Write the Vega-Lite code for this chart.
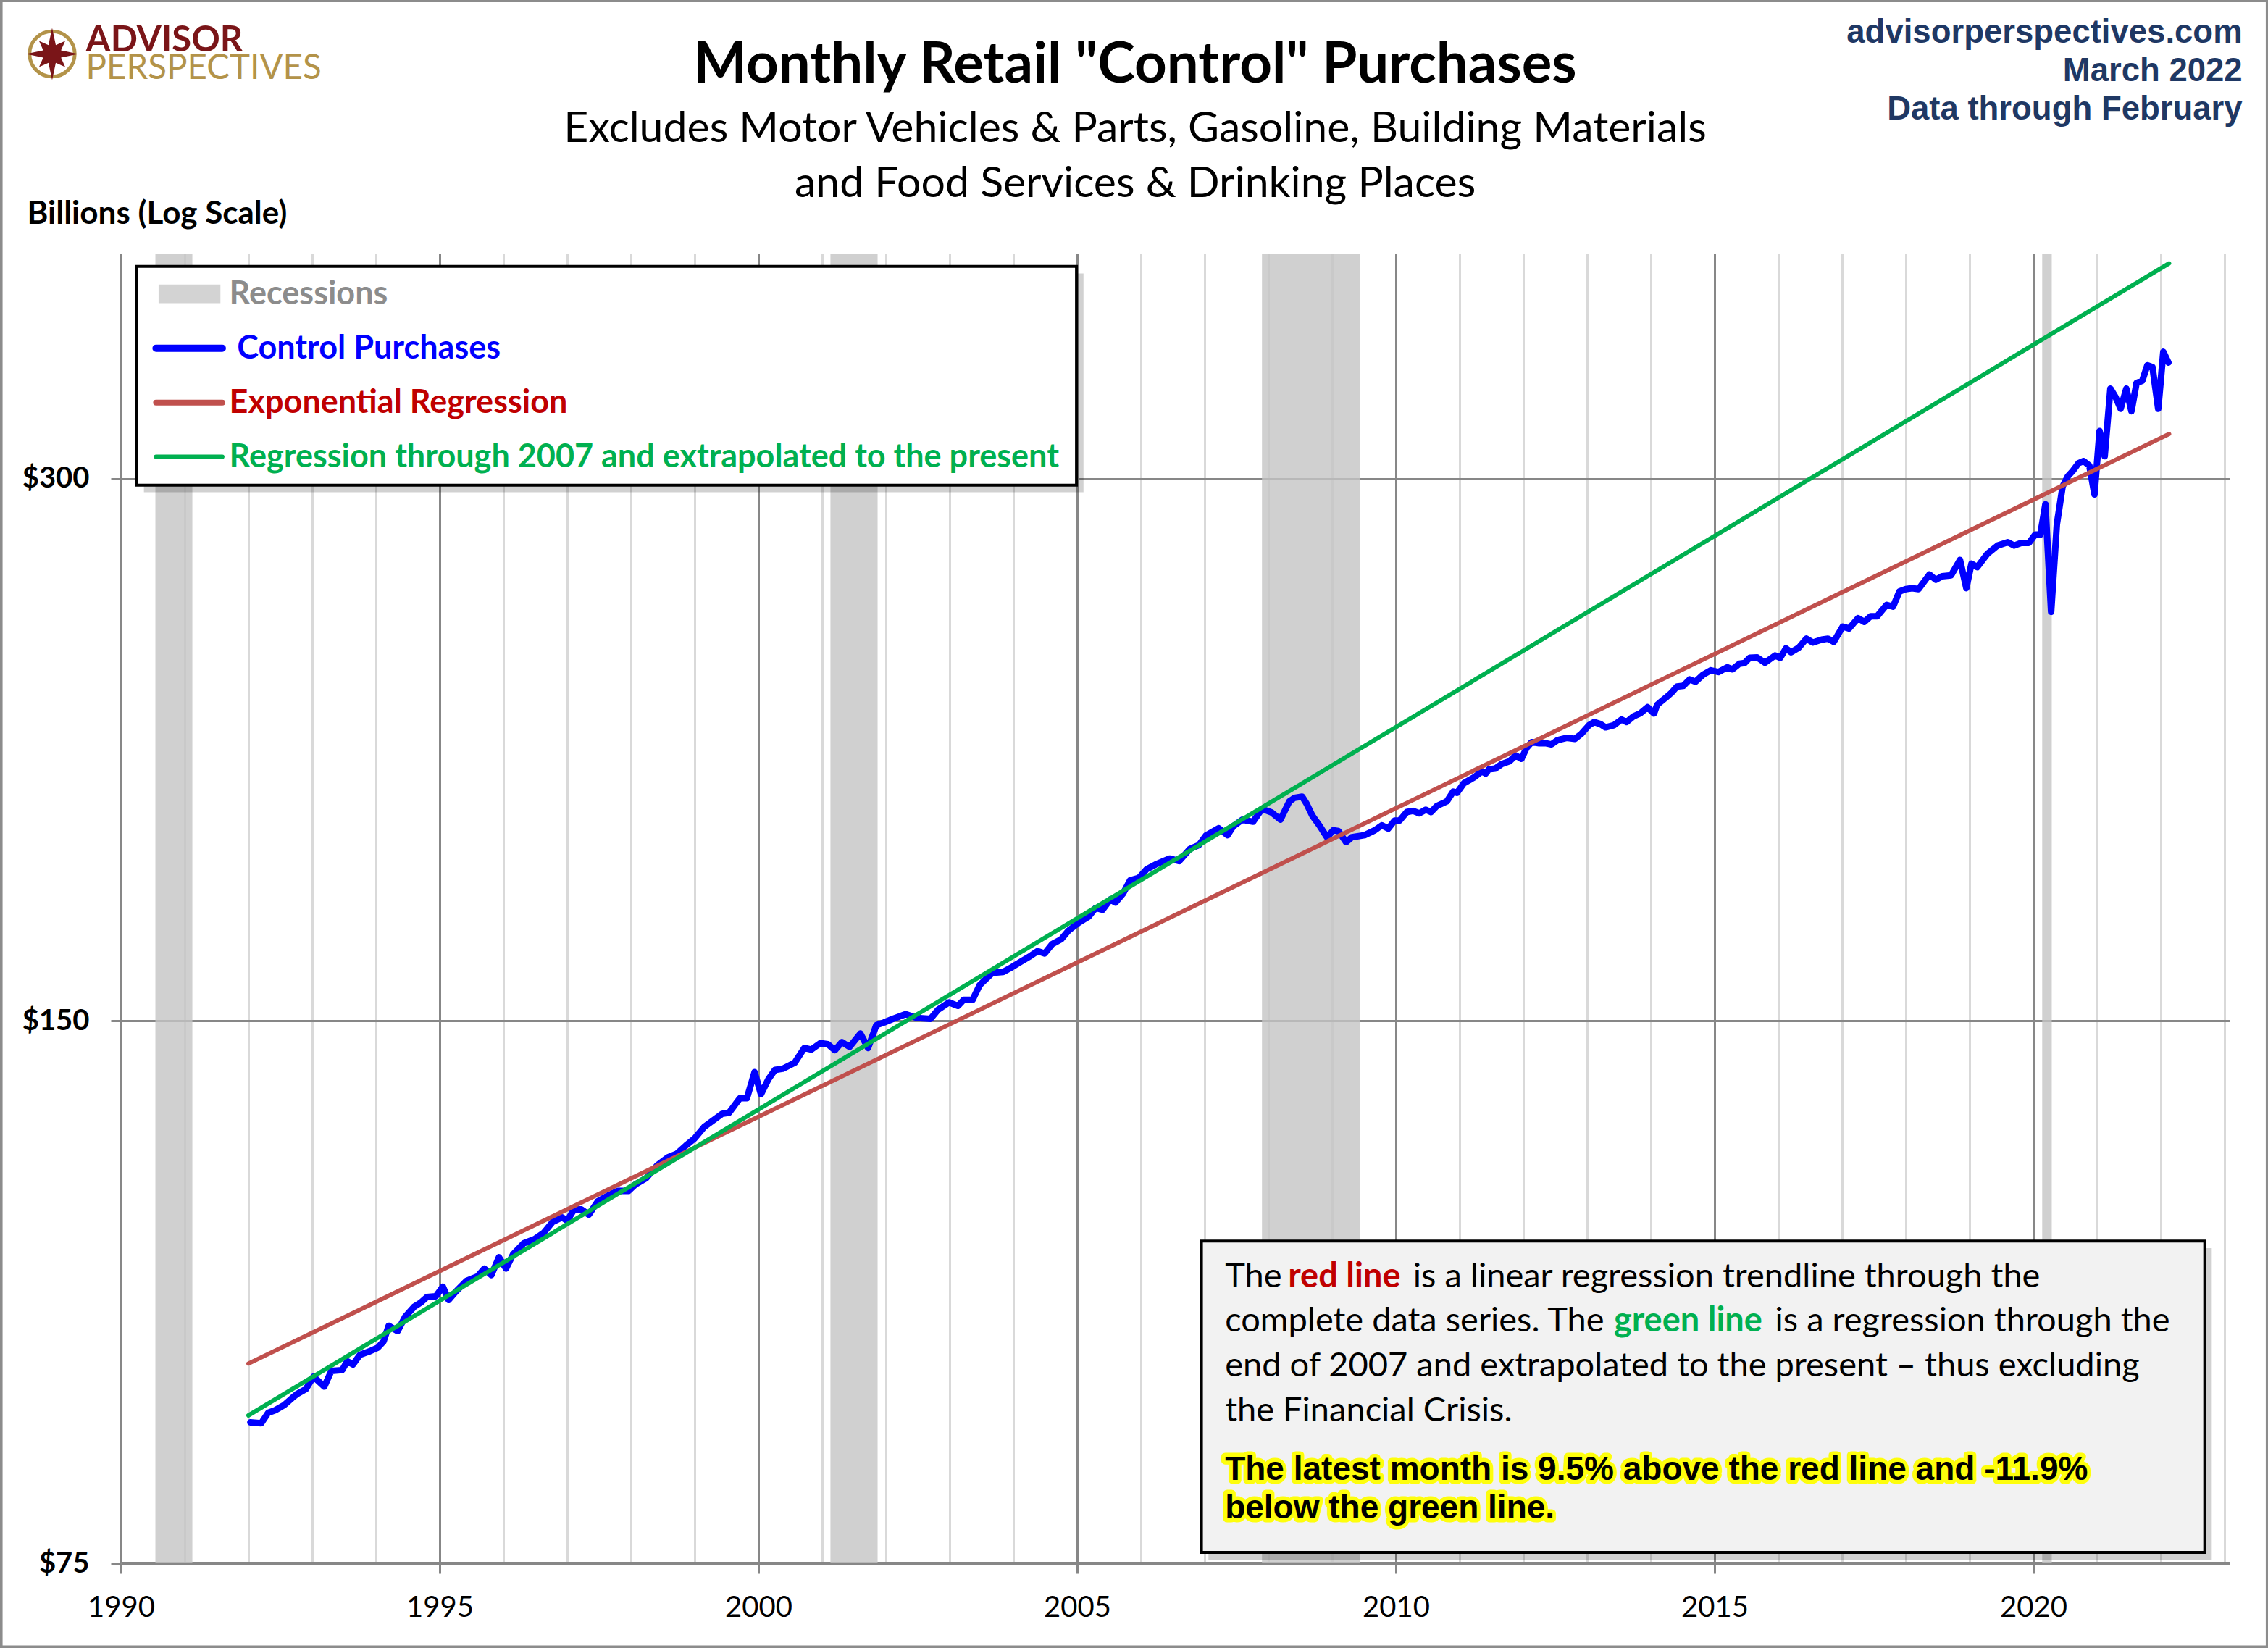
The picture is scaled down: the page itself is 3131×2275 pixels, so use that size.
{
  "$schema": "https://vega.github.io/schema/vega-lite/v6.json",
  "width": 2911,
  "height": 1808,
  "autosize": {"type": "none"},
  "padding": {"left": 167, "top": 350, "right": 53, "bottom": 117},
  "background": "white",
  "config": {"view": {"stroke": null}, "font": "Lato"},
  "datasets": {
    "retail": [
      {"year": 1992.03, "value": 89.8}, {"year": 1992.2, "value": 89.7}, {"year": 1992.31, "value": 90.9},
      {"year": 1992.42, "value": 91.2}, {"year": 1992.56, "value": 91.8}, {"year": 1992.68, "value": 92.6},
      {"year": 1992.76, "value": 93.1}, {"year": 1992.9, "value": 93.7}, {"year": 1993.02, "value": 95.2},
      {"year": 1993.19, "value": 94.0}, {"year": 1993.3, "value": 95.9}, {"year": 1993.47, "value": 96.0},
      {"year": 1993.55, "value": 97.1}, {"year": 1993.64, "value": 96.7}, {"year": 1993.75, "value": 97.9},
      {"year": 1993.89, "value": 98.3}, {"year": 1994.03, "value": 98.8}, {"year": 1994.12, "value": 99.6},
      {"year": 1994.2, "value": 101.6}, {"year": 1994.34, "value": 100.9}, {"year": 1994.46, "value": 102.8},
      {"year": 1994.6, "value": 104.1}, {"year": 1994.71, "value": 104.7}, {"year": 1994.8, "value": 105.4},
      {"year": 1994.94, "value": 105.5}, {"year": 1995.05, "value": 106.8}, {"year": 1995.14, "value": 105.0},
      {"year": 1995.25, "value": 106.1}, {"year": 1995.42, "value": 107.6}, {"year": 1995.59, "value": 108.2},
      {"year": 1995.7, "value": 109.3}, {"year": 1995.81, "value": 108.4}, {"year": 1995.93, "value": 110.9},
      {"year": 1996.04, "value": 109.3}, {"year": 1996.15, "value": 111.3}, {"year": 1996.32, "value": 112.9},
      {"year": 1996.49, "value": 113.5}, {"year": 1996.63, "value": 114.4}, {"year": 1996.77, "value": 116.0},
      {"year": 1996.92, "value": 116.7}, {"year": 1997.0, "value": 116.2}, {"year": 1997.11, "value": 117.9},
      {"year": 1997.22, "value": 117.9}, {"year": 1997.34, "value": 117.1}, {"year": 1997.48, "value": 119.1},
      {"year": 1997.62, "value": 119.9}, {"year": 1997.79, "value": 120.7}, {"year": 1997.96, "value": 120.7},
      {"year": 1998.07, "value": 121.7}, {"year": 1998.24, "value": 122.7}, {"year": 1998.41, "value": 124.7},
      {"year": 1998.58, "value": 126.0}, {"year": 1998.72, "value": 126.6}, {"year": 1998.86, "value": 127.9},
      {"year": 1999.0, "value": 129.1}, {"year": 1999.15, "value": 131.0}, {"year": 1999.29, "value": 132.1},
      {"year": 1999.43, "value": 133.2}, {"year": 1999.54, "value": 133.4}, {"year": 1999.71, "value": 135.9},
      {"year": 1999.82, "value": 135.9}, {"year": 1999.94, "value": 140.5}, {"year": 2000.04, "value": 136.6},
      {"year": 2000.16, "value": 139.3}, {"year": 2000.26, "value": 140.9}, {"year": 2000.38, "value": 141.1},
      {"year": 2000.57, "value": 142.2}, {"year": 2000.72, "value": 144.9}, {"year": 2000.83, "value": 144.6},
      {"year": 2000.97, "value": 145.8}, {"year": 2001.09, "value": 145.6}, {"year": 2001.2, "value": 144.5},
      {"year": 2001.31, "value": 146.0}, {"year": 2001.43, "value": 145.1}, {"year": 2001.6, "value": 147.6},
      {"year": 2001.72, "value": 144.9}, {"year": 2001.85, "value": 149.2}, {"year": 2001.97, "value": 149.7},
      {"year": 2002.11, "value": 150.4}, {"year": 2002.31, "value": 151.3}, {"year": 2002.48, "value": 150.6},
      {"year": 2002.7, "value": 150.4}, {"year": 2002.82, "value": 152.2}, {"year": 2002.99, "value": 153.6},
      {"year": 2003.13, "value": 152.9}, {"year": 2003.22, "value": 154.1}, {"year": 2003.36, "value": 154.1},
      {"year": 2003.47, "value": 157.0}, {"year": 2003.67, "value": 159.5}, {"year": 2003.84, "value": 159.7},
      {"year": 2003.98, "value": 160.7}, {"year": 2004.13, "value": 161.9}, {"year": 2004.27, "value": 163.0},
      {"year": 2004.38, "value": 164.0}, {"year": 2004.49, "value": 163.5}, {"year": 2004.61, "value": 165.5},
      {"year": 2004.75, "value": 166.5}, {"year": 2004.86, "value": 168.3}, {"year": 2005.03, "value": 170.1},
      {"year": 2005.18, "value": 171.4}, {"year": 2005.29, "value": 173.3}, {"year": 2005.4, "value": 172.9},
      {"year": 2005.52, "value": 175.2}, {"year": 2005.6, "value": 174.5}, {"year": 2005.72, "value": 176.5},
      {"year": 2005.83, "value": 179.5}, {"year": 2005.97, "value": 180.1}, {"year": 2006.09, "value": 182.1},
      {"year": 2006.23, "value": 183.2}, {"year": 2006.45, "value": 184.6}, {"year": 2006.6, "value": 184.0},
      {"year": 2006.77, "value": 186.9}, {"year": 2006.91, "value": 187.8}, {"year": 2007.02, "value": 190.1},
      {"year": 2007.22, "value": 191.9}, {"year": 2007.36, "value": 190.2}, {"year": 2007.45, "value": 192.4},
      {"year": 2007.59, "value": 194.0}, {"year": 2007.76, "value": 193.5}, {"year": 2007.9, "value": 196.7},
      {"year": 2008.05, "value": 195.8}, {"year": 2008.19, "value": 194.0}, {"year": 2008.33, "value": 198.6},
      {"year": 2008.41, "value": 199.5}, {"year": 2008.53, "value": 199.8}, {"year": 2008.6, "value": 198.0},
      {"year": 2008.69, "value": 195.0}, {"year": 2008.8, "value": 192.6}, {"year": 2008.92, "value": 189.7},
      {"year": 2009.02, "value": 191.4}, {"year": 2009.1, "value": 191.2}, {"year": 2009.22, "value": 188.5},
      {"year": 2009.31, "value": 189.7}, {"year": 2009.51, "value": 190.2}, {"year": 2009.67, "value": 191.4},
      {"year": 2009.78, "value": 192.6}, {"year": 2009.88, "value": 191.8}, {"year": 2009.98, "value": 193.8},
      {"year": 2010.06, "value": 193.8}, {"year": 2010.17, "value": 195.9}, {"year": 2010.27, "value": 196.2},
      {"year": 2010.37, "value": 195.6}, {"year": 2010.47, "value": 196.5}, {"year": 2010.55, "value": 195.9},
      {"year": 2010.64, "value": 197.4}, {"year": 2010.8, "value": 198.6}, {"year": 2010.9, "value": 201.1},
      {"year": 2010.96, "value": 200.8}, {"year": 2011.07, "value": 203.3}, {"year": 2011.23, "value": 204.8},
      {"year": 2011.35, "value": 206.4}, {"year": 2011.41, "value": 205.8}, {"year": 2011.46, "value": 206.9},
      {"year": 2011.56, "value": 207.1}, {"year": 2011.66, "value": 208.3}, {"year": 2011.78, "value": 209.0},
      {"year": 2011.88, "value": 210.6}, {"year": 2011.97, "value": 209.7}, {"year": 2012.05, "value": 212.6},
      {"year": 2012.13, "value": 214.2}, {"year": 2012.25, "value": 213.9}, {"year": 2012.36, "value": 213.9},
      {"year": 2012.44, "value": 213.6}, {"year": 2012.54, "value": 214.8}, {"year": 2012.68, "value": 215.4},
      {"year": 2012.81, "value": 215.1}, {"year": 2012.91, "value": 216.5}, {"year": 2013.03, "value": 218.9},
      {"year": 2013.11, "value": 219.8}, {"year": 2013.21, "value": 219.2}, {"year": 2013.29, "value": 218.3},
      {"year": 2013.42, "value": 218.9}, {"year": 2013.54, "value": 220.5}, {"year": 2013.62, "value": 219.8},
      {"year": 2013.73, "value": 221.4}, {"year": 2013.83, "value": 222.2}, {"year": 2013.95, "value": 224.0},
      {"year": 2014.05, "value": 222.2}, {"year": 2014.1, "value": 224.7}, {"year": 2014.24, "value": 226.8},
      {"year": 2014.32, "value": 228.1}, {"year": 2014.41, "value": 230.0}, {"year": 2014.51, "value": 230.2},
      {"year": 2014.61, "value": 232.1}, {"year": 2014.7, "value": 231.4}, {"year": 2014.82, "value": 233.5},
      {"year": 2014.94, "value": 234.8}, {"year": 2015.06, "value": 234.3}, {"year": 2015.2, "value": 235.7},
      {"year": 2015.28, "value": 235.1}, {"year": 2015.39, "value": 236.8}, {"year": 2015.47, "value": 237.0},
      {"year": 2015.55, "value": 238.6}, {"year": 2015.67, "value": 238.7}, {"year": 2015.79, "value": 237.1},
      {"year": 2015.95, "value": 239.3}, {"year": 2016.03, "value": 238.6}, {"year": 2016.12, "value": 241.5},
      {"year": 2016.2, "value": 240.3}, {"year": 2016.32, "value": 241.7}, {"year": 2016.44, "value": 244.5},
      {"year": 2016.54, "value": 243.3}, {"year": 2016.68, "value": 244.2}, {"year": 2016.78, "value": 244.5},
      {"year": 2016.87, "value": 243.5}, {"year": 2017.01, "value": 248.3}, {"year": 2017.11, "value": 247.7},
      {"year": 2017.25, "value": 251.0}, {"year": 2017.35, "value": 249.8}, {"year": 2017.45, "value": 251.6},
      {"year": 2017.55, "value": 251.6}, {"year": 2017.7, "value": 255.3}, {"year": 2017.8, "value": 254.7},
      {"year": 2017.9, "value": 259.7}, {"year": 2018.0, "value": 260.5}, {"year": 2018.1, "value": 260.8},
      {"year": 2018.2, "value": 260.5}, {"year": 2018.37, "value": 265.4}, {"year": 2018.47, "value": 263.6},
      {"year": 2018.57, "value": 264.8}, {"year": 2018.71, "value": 265.1}, {"year": 2018.85, "value": 270.4},
      {"year": 2018.95, "value": 260.8}, {"year": 2019.03, "value": 269.1}, {"year": 2019.12, "value": 267.9},
      {"year": 2019.28, "value": 272.5}, {"year": 2019.44, "value": 275.4}, {"year": 2019.6, "value": 276.6},
      {"year": 2019.7, "value": 275.4}, {"year": 2019.81, "value": 276.3}, {"year": 2019.93, "value": 276.3},
      {"year": 2020.03, "value": 279.3}, {"year": 2020.11, "value": 279.3}, {"year": 2020.19, "value": 290.3},
      {"year": 2020.28, "value": 253.0}, {"year": 2020.37, "value": 283.0}, {"year": 2020.46, "value": 297.0},
      {"year": 2020.54, "value": 300.8}, {"year": 2020.62, "value": 303.0}, {"year": 2020.71, "value": 306.0},
      {"year": 2020.79, "value": 306.8}, {"year": 2020.88, "value": 305.0}, {"year": 2020.96, "value": 294.0},
      {"year": 2021.04, "value": 318.8}, {"year": 2021.12, "value": 308.7}, {"year": 2021.21, "value": 336.6},
      {"year": 2021.29, "value": 333.0}, {"year": 2021.37, "value": 328.0}, {"year": 2021.46, "value": 336.6},
      {"year": 2021.54, "value": 327.0}, {"year": 2021.62, "value": 339.0}, {"year": 2021.71, "value": 340.0},
      {"year": 2021.79, "value": 346.8}, {"year": 2021.87, "value": 346.0}, {"year": 2021.96, "value": 328.0},
      {"year": 2022.04, "value": 352.8}, {"year": 2022.12, "value": 348.0}
    ],
    "trends": [
      {"series": "Exponential Regression", "year": 1992.0, "value": 96.8},
      {"series": "Exponential Regression", "year": 2022.13, "value": 317.6},
      {"series": "Regression through 2007", "year": 1992.0, "value": 90.6},
      {"series": "Regression through 2007", "year": 2022.13, "value": 395.0}
    ],
    "recessions": [
      {"start": 1990.54, "end": 1991.12},
      {"start": 2001.13, "end": 2001.87},
      {"start": 2007.9, "end": 2009.44},
      {"start": 2020.14, "end": 2020.29}
    ],
    "panels": [
      {"panel": "legend shadow", "year": 1990.36, "year2": 2005.1, "value": 389.9, "value2": 294.8},
      {"panel": "legend", "year": 1990.24, "year2": 2004.99, "value": 393.5, "value2": 297.5},
      {"panel": "note shadow", "year": 2007.06, "year2": 2022.8, "value": 112.2, "value2": 75.35},
      {"panel": "note", "year": 2006.95, "year2": 2022.69, "value": 113.2, "value2": 76.05},
      {"panel": "frame", "year": 1988.12, "year2": 2023.67, "value": 552.6, "value2": 67.39}
    ],
    "keys": [
      {"item": "Recessions", "year": 1990.59, "year2": 1991.56, "value": 384.5, "value2": 375.4, "labelYear": 1991.7, "labelValue": 379.9},
      {"item": "Control Purchases", "year": 1990.55, "year2": 1991.59, "value": 354.4, "labelYear": 1991.82, "labelValue": 354.4},
      {"item": "Exponential Regression", "year": 1990.55, "year2": 1991.59, "value": 330.6, "labelYear": 1991.7, "labelValue": 330.6},
      {"item": "Regression through 2007 and extrapolated to the present", "year": 1990.55, "year2": 1991.59, "value": 308.5, "labelYear": 1991.7, "labelValue": 308.5}
    ],
    "note": [
      {"style": "plain", "text": "The", "year": 2007.32, "value": 106.7},
      {"style": "red", "text": "red line", "year": 2008.31, "value": 106.7},
      {"style": "plain", "text": "is a linear regression trendline  through the", "year": 2010.27, "value": 106.7},
      {"style": "plain", "text": "complete data series. The", "year": 2007.32, "value": 100.9},
      {"style": "green", "text": "green line", "year": 2013.42, "value": 100.9},
      {"style": "plain", "text": "is a regression through the", "year": 2015.95, "value": 100.9},
      {"style": "plain", "text": "end of 2007 and extrapolated to the present  \u2013 thus excluding", "year": 2007.32, "value": 95.2},
      {"style": "plain", "text": "the Financial Crisis.", "year": 2007.32, "value": 89.9},
      {"style": "highlight", "text": "The latest month is 9.5% above the red line and -11.9%", "year": 2007.32, "value": 83.4},
      {"style": "highlight", "text": "below the green line.", "year": 2007.32, "value": 79.4}
    ],
    "header": [
      {"role": "title", "text": "Monthly Retail \"Control\" Purchases", "year": 2005.91, "value": 497.9},
      {"role": "subtitle", "text": "Excludes Motor Vehicles & Parts, Gasoline, Building Materials", "year": 2005.91, "value": 461.4},
      {"role": "subtitle", "text": "and Food Services & Drinking Places", "year": 2005.91, "value": 429.8},
      {"role": "site", "text": "advisorperspectives.com", "year": 2023.28, "value": 523.5},
      {"role": "site", "text": "March 2022", "year": 2023.28, "value": 498.8},
      {"role": "site", "text": "Data through February", "year": 2023.28, "value": 474.9},
      {"role": "brand", "text": "ADVISOR", "year": 1989.45, "value": 518.1},
      {"role": "brand2", "text": "PERSPECTIVES", "year": 1989.45, "value": 500.2},
      {"role": "compass", "text": "", "year": 1988.92, "value": 516.2}
    ]
  },
  "layer": [
    {
      "data": {"name": "recessions"},
      "mark": {"type": "rect", "color": "#c4c4c4", "opacity": 0.8},
      "encoding": {
        "x": {"field": "start", "type": "quantitative", "scale": {"domain": [1990, 2023.08], "nice": false, "zero": false}},
        "x2": {"field": "end"}
      }
    },
    {
      "data": {"name": "retail"},
      "mark": {"type": "line", "color": "#0000ff", "strokeWidth": 9, "strokeJoin": "round", "strokeCap": "round"},
      "encoding": {
        "x": {
          "field": "year", "type": "quantitative",
          "scale": {"domain": [1990, 2023.08], "nice": false, "zero": false},
          "axis": {
            "title": null,
            "values": [1990, 1991, 1992, 1993, 1994, 1995, 1996, 1997, 1998, 1999, 2000, 2001, 2002, 2003, 2004, 2005, 2006, 2007, 2008, 2009, 2010, 2011, 2012, 2013, 2014, 2015, 2016, 2017, 2018, 2019, 2020, 2021, 2022, 2023],
            "format": "d",
            "labelExpr": "datum.value % 5 === 0 ? datum.label : ''",
            "labelOverlap": false, "labelFlush": false, "labelBound": false,
            "labelFont": "Lato", "labelFontSize": 40, "labelColor": "#000000", "labelPadding": 27,
            "domain": false,
            "grid": true,
            "gridColor": {"condition": {"test": "datum.value % 5 === 0", "value": "#878787"}, "value": "#d9d9d9"},
            "gridWidth": 3,
            "tickSize": 14, "tickWidth": 3,
            "tickColor": {"condition": {"test": "datum.value % 5 === 0", "value": "#878787"}, "value": "transparent"}
          }
        },
        "y": {
          "field": "value", "type": "quantitative",
          "scale": {"type": "log", "domain": [75, 400], "nice": false},
          "axis": {
            "title": "Billions (Log Scale)",
            "values": [75, 150, 300],
            "labelExpr": "'$' + datum.value",
            "labelFont": "Lato", "labelFontWeight": "bold", "labelFontSize": 40, "labelColor": "#000000", "labelPadding": 30,
            "domain": false,
            "grid": true, "gridColor": "#878787",
            "gridWidth": {"condition": {"test": "datum.value === 75", "value": 5}, "value": 3},
            "tickSize": 14, "tickWidth": 3, "tickColor": "#878787",
            "titleAngle": 0, "titleAlign": "left", "titleBaseline": "alphabetic",
            "titleX": -130, "titleY": -42,
            "titleFont": "Lato", "titleFontWeight": "bold", "titleFontSize": 44, "titleColor": "#000000"
          }
        }
      }
    },
    {
      "data": {"name": "trends"},
      "transform": [{"filter": "datum.series === 'Exponential Regression'"}],
      "mark": {"type": "line", "color": "#c0504d", "strokeWidth": 6, "strokeCap": "round"},
      "encoding": {
        "x": {"field": "year", "type": "quantitative", "scale": {"domain": [1990, 2023.08], "nice": false, "zero": false}},
        "y": {"field": "value", "type": "quantitative", "scale": {"type": "log", "domain": [75, 400], "nice": false}}
      }
    },
    {
      "data": {"name": "trends"},
      "transform": [{"filter": "datum.series === 'Regression through 2007'"}],
      "mark": {"type": "line", "color": "#00b050", "strokeWidth": 6, "strokeCap": "round"},
      "encoding": {
        "x": {"field": "year", "type": "quantitative", "scale": {"domain": [1990, 2023.08], "nice": false, "zero": false}},
        "y": {"field": "value", "type": "quantitative", "scale": {"type": "log", "domain": [75, 400], "nice": false}}
      }
    },
    {
      "data": {"name": "panels"},
      "transform": [{"filter": "indexof(datum.panel, 'shadow') >= 0"}],
      "mark": {"type": "rect", "color": "#000000", "opacity": 0.18},
      "encoding": {
        "x": {"field": "year", "type": "quantitative", "scale": {"domain": [1990, 2023.08], "nice": false, "zero": false}},
        "x2": {"field": "year2"},
        "y": {"field": "value", "type": "quantitative", "scale": {"type": "log", "domain": [75, 400], "nice": false}},
        "y2": {"field": "value2"}
      }
    },
    {
      "data": {"name": "panels"},
      "transform": [{"filter": "datum.panel === 'legend'"}],
      "mark": {"type": "rect", "fill": "#ffffff", "stroke": "#000000", "strokeWidth": 4},
      "encoding": {
        "x": {"field": "year", "type": "quantitative", "scale": {"domain": [1990, 2023.08], "nice": false, "zero": false}},
        "x2": {"field": "year2"},
        "y": {"field": "value", "type": "quantitative", "scale": {"type": "log", "domain": [75, 400], "nice": false}},
        "y2": {"field": "value2"}
      }
    },
    {
      "data": {"name": "panels"},
      "transform": [{"filter": "datum.panel === 'note'"}],
      "mark": {"type": "rect", "fill": "#f2f2f2", "stroke": "#000000", "strokeWidth": 4},
      "encoding": {
        "x": {"field": "year", "type": "quantitative", "scale": {"domain": [1990, 2023.08], "nice": false, "zero": false}},
        "x2": {"field": "year2"},
        "y": {"field": "value", "type": "quantitative", "scale": {"type": "log", "domain": [75, 400], "nice": false}},
        "y2": {"field": "value2"}
      }
    },
    {
      "data": {"name": "keys"},
      "transform": [{"filter": "datum.item === 'Recessions'"}],
      "mark": {"type": "rect", "color": "#d3d3d3"},
      "encoding": {
        "x": {"field": "year", "type": "quantitative", "scale": {"domain": [1990, 2023.08], "nice": false, "zero": false}},
        "x2": {"field": "year2"},
        "y": {"field": "value", "type": "quantitative", "scale": {"type": "log", "domain": [75, 400], "nice": false}},
        "y2": {"field": "value2"}
      }
    },
    {
      "data": {"name": "keys"},
      "transform": [{"filter": "datum.item !== 'Recessions'"}],
      "mark": {"type": "rule", "strokeCap": "round"},
      "encoding": {
        "x": {"field": "year", "type": "quantitative", "scale": {"domain": [1990, 2023.08], "nice": false, "zero": false}},
        "x2": {"field": "year2"},
        "y": {"field": "value", "type": "quantitative", "scale": {"type": "log", "domain": [75, 400], "nice": false}},
        "stroke": {"field": "item", "type": "nominal", "legend": null,
          "scale": {"domain": ["Control Purchases", "Exponential Regression", "Regression through 2007 and extrapolated to the present"], "range": ["#0000ff", "#c0504d", "#00b050"]}},
        "strokeWidth": {"field": "item", "type": "nominal", "legend": null,
          "scale": {"domain": ["Control Purchases", "Exponential Regression", "Regression through 2007 and extrapolated to the present"], "range": [10, 6, 6]}}
      }
    },
    {
      "data": {"name": "keys"},
      "mark": {"type": "text", "font": "Lato", "fontWeight": "bold", "fontSize": 45, "align": "left", "baseline": "middle"},
      "encoding": {
        "x": {"field": "labelYear", "type": "quantitative", "scale": {"domain": [1990, 2023.08], "nice": false, "zero": false}},
        "y": {"field": "labelValue", "type": "quantitative", "scale": {"type": "log", "domain": [75, 400], "nice": false}},
        "text": {"field": "item"},
        "color": {"field": "item", "type": "nominal", "legend": null,
          "scale": {"domain": ["Recessions", "Control Purchases", "Exponential Regression", "Regression through 2007 and extrapolated to the present"], "range": ["#8c8c8c", "#0000ff", "#c00000", "#00b050"]}}
      }
    },
    {
      "data": {"name": "note"},
      "transform": [{"filter": "datum.style === 'plain'"}],
      "mark": {"type": "text", "font": "Lato", "fontSize": 47, "align": "left", "baseline": "alphabetic", "fill": "#000000"},
      "encoding": {
        "x": {"field": "year", "type": "quantitative", "scale": {"domain": [1990, 2023.08], "nice": false, "zero": false}},
        "y": {"field": "value", "type": "quantitative", "scale": {"type": "log", "domain": [75, 400], "nice": false}},
        "text": {"field": "text"}
      }
    },
    {
      "data": {"name": "note"},
      "transform": [{"filter": "datum.style === 'red' || datum.style === 'green'"}],
      "mark": {"type": "text", "font": "Lato", "fontWeight": "bold", "fontSize": 47, "align": "left", "baseline": "alphabetic"},
      "encoding": {
        "x": {"field": "year", "type": "quantitative", "scale": {"domain": [1990, 2023.08], "nice": false, "zero": false}},
        "y": {"field": "value", "type": "quantitative", "scale": {"type": "log", "domain": [75, 400], "nice": false}},
        "text": {"field": "text"},
        "fill": {"field": "style", "type": "nominal", "legend": null,
          "scale": {"domain": ["red", "green"], "range": ["#c00000", "#00b050"]}}
      }
    },
    {
      "data": {"name": "note"},
      "transform": [{"filter": "datum.style === 'highlight'"}],
      "mark": {"type": "text", "font": "Liberation Sans", "fontWeight": "bold", "fontSize": 46, "align": "left", "baseline": "alphabetic",
        "fill": "#ffff00", "stroke": "#ffff00", "strokeWidth": 11, "strokeJoin": "round", "opacity": 0.95},
      "encoding": {
        "x": {"field": "year", "type": "quantitative", "scale": {"domain": [1990, 2023.08], "nice": false, "zero": false}},
        "y": {"field": "value", "type": "quantitative", "scale": {"type": "log", "domain": [75, 400], "nice": false}},
        "text": {"field": "text"}
      }
    },
    {
      "data": {"name": "note"},
      "transform": [{"filter": "datum.style === 'highlight'"}],
      "mark": {"type": "text", "font": "Liberation Sans", "fontWeight": "bold", "fontSize": 46, "align": "left", "baseline": "alphabetic", "fill": "#000000"},
      "encoding": {
        "x": {"field": "year", "type": "quantitative", "scale": {"domain": [1990, 2023.08], "nice": false, "zero": false}},
        "y": {"field": "value", "type": "quantitative", "scale": {"type": "log", "domain": [75, 400], "nice": false}},
        "text": {"field": "text"}
      }
    },
    {
      "data": {"name": "header"},
      "transform": [{"filter": "datum.role === 'title'"}],
      "mark": {"type": "text", "font": "Lato", "fontWeight": "bold", "fontSize": 78, "align": "center", "baseline": "alphabetic", "fill": "#000000"},
      "encoding": {
        "x": {"field": "year", "type": "quantitative", "scale": {"domain": [1990, 2023.08], "nice": false, "zero": false}},
        "y": {"field": "value", "type": "quantitative", "scale": {"type": "log", "domain": [75, 400], "nice": false}},
        "text": {"field": "text"}
      }
    },
    {
      "data": {"name": "header"},
      "transform": [{"filter": "datum.role === 'subtitle'"}],
      "mark": {"type": "text", "font": "Lato", "fontSize": 59, "align": "center", "baseline": "alphabetic", "fill": "#000000"},
      "encoding": {
        "x": {"field": "year", "type": "quantitative", "scale": {"domain": [1990, 2023.08], "nice": false, "zero": false}},
        "y": {"field": "value", "type": "quantitative", "scale": {"type": "log", "domain": [75, 400], "nice": false}},
        "text": {"field": "text"}
      }
    },
    {
      "data": {"name": "header"},
      "transform": [{"filter": "datum.role === 'site'"}],
      "mark": {"type": "text", "font": "Liberation Sans", "fontWeight": "bold", "fontSize": 45.5, "align": "right", "baseline": "alphabetic", "fill": "#1f3864"},
      "encoding": {
        "x": {"field": "year", "type": "quantitative", "scale": {"domain": [1990, 2023.08], "nice": false, "zero": false}},
        "y": {"field": "value", "type": "quantitative", "scale": {"type": "log", "domain": [75, 400], "nice": false}},
        "text": {"field": "text"}
      }
    },
    {
      "data": {"name": "header"},
      "transform": [{"filter": "datum.role === 'brand'"}],
      "mark": {"type": "text", "font": "Lato", "fontWeight": "bold", "fontSize": 49, "align": "left", "baseline": "alphabetic", "fill": "#7a1518"},
      "encoding": {
        "x": {"field": "year", "type": "quantitative", "scale": {"domain": [1990, 2023.08], "nice": false, "zero": false}},
        "y": {"field": "value", "type": "quantitative", "scale": {"type": "log", "domain": [75, 400], "nice": false}},
        "text": {"field": "text"}
      }
    },
    {
      "data": {"name": "header"},
      "transform": [{"filter": "datum.role === 'brand2'"}],
      "mark": {"type": "text", "font": "Lato", "fontSize": 47.5, "align": "left", "baseline": "alphabetic", "fill": "#b39349"},
      "encoding": {
        "x": {"field": "year", "type": "quantitative", "scale": {"domain": [1990, 2023.08], "nice": false, "zero": false}},
        "y": {"field": "value", "type": "quantitative", "scale": {"type": "log", "domain": [75, 400], "nice": false}},
        "text": {"field": "text"}
      }
    },
    {
      "data": {"name": "header"},
      "transform": [{"filter": "datum.role === 'compass'"}],
      "mark": {"type": "point", "shape": "circle", "filled": false, "stroke": "#b39349", "strokeWidth": 5, "size": 3900, "opacity": 1},
      "encoding": {
        "x": {"field": "year", "type": "quantitative", "scale": {"domain": [1990, 2023.08], "nice": false, "zero": false}},
        "y": {"field": "value", "type": "quantitative", "scale": {"type": "log", "domain": [75, 400], "nice": false}}
      }
    },
    {
      "data": {"name": "header"},
      "transform": [{"filter": "datum.role === 'compass'"}],
      "mark": {"type": "point", "shape": "M0,-1L0.14,-0.34L0.5,-0.5L0.34,-0.14L1,0L0.34,0.14L0.5,0.5L0.14,0.34L0,1L-0.14,0.34L-0.5,0.5L-0.34,0.14L-1,0L-0.34,-0.14L-0.5,-0.5L-0.14,-0.34Z", "filled": true, "fill": "#7a1518", "size": 5200, "opacity": 1},
      "encoding": {
        "x": {"field": "year", "type": "quantitative", "scale": {"domain": [1990, 2023.08], "nice": false, "zero": false}},
        "y": {"field": "value", "type": "quantitative", "scale": {"type": "log", "domain": [75, 400], "nice": false}}
      }
    },
    {
      "data": {"name": "panels"},
      "transform": [{"filter": "datum.panel === 'frame'"}],
      "mark": {"type": "rect", "fill": "transparent", "stroke": "#8c8c8c", "strokeWidth": 4},
      "encoding": {
        "x": {"field": "year", "type": "quantitative", "scale": {"domain": [1990, 2023.08], "nice": false, "zero": false}},
        "x2": {"field": "year2"},
        "y": {"field": "value", "type": "quantitative", "scale": {"type": "log", "domain": [75, 400], "nice": false}},
        "y2": {"field": "value2"}
      }
    }
  ]
}
